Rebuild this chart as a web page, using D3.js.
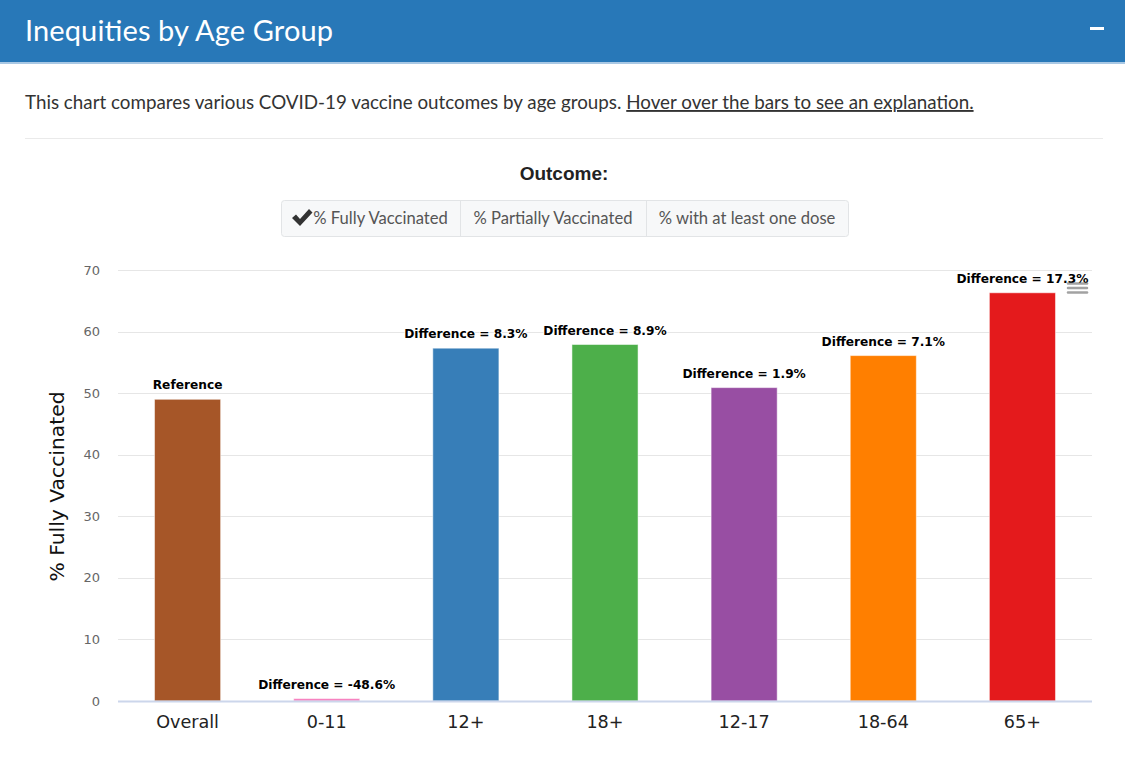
<!DOCTYPE html>
<html>
<head>
<meta charset="utf-8">
<script src="https://cdn.jsdelivr.net/npm/d3@7"></script>
<style>
  body { margin: 0; background: #fff; }
  svg { display: block; }
</style>
</head>
<body>
<svg id="chart"></svg>
<script>
// Data
const categories = ['Overall', '0-11', '12+', '18+', '12-17', '18-64', '65+'];
const values = [49.0, 0.4, 57.3, 57.9, 50.9, 56.1, 66.3];
const labels = ['Reference', 'Difference = -48.6%', 'Difference = 8.3%', 'Difference = 8.9%',
  'Difference = 1.9%', 'Difference = 7.1%', 'Difference = 17.3%'];
const colors = ['#a65628', '#f781bf', '#377eb8', '#4daf4a', '#984ea3', '#ff7f00', '#e41a1c'];
const yTicks = [0, 10, 20, 30, 40, 50, 60, 70];
const outcomes = ['% Fully Vaccinated', '% Partially Vaccinated', '% with at least one dose'];

const W = 1125, H = 779;
const svg = d3.select('#chart').attr('width', W).attr('height', H);

// Header
svg.append('rect').attr('x', 0).attr('y', 0).attr('width', W).attr('height', 62).attr('fill', '#2878b8');
svg.append('rect').attr('x', 0).attr('y', 62).attr('width', W).attr('height', 2).attr('fill', '#a9c8e4');
svg.append('text')
  .attr('x', 25).attr('y', 41)
  .attr('fill', '#fff')
  .attr('textLength', 308)
  .style('font', '29px Lato, "Open Sans", sans-serif')
  .text('Inequities by Age Group');
svg.append('rect').attr('x', 1090).attr('y', 27).attr('width', 14).attr('height', 3).attr('fill', '#fff');

// Description
const desc = svg.append('text')
  .attr('x', 25).attr('y', 109)
  .attr('fill', '#333')
  .style('font', '18.8px Lato, "Open Sans", sans-serif');
desc.append('tspan').text('This chart compares various COVID-19 vaccine outcomes by age groups. ');
desc.append('tspan').attr('text-decoration', 'underline').text('Hover over the bars to see an explanation.');

svg.append('line').attr('x1', 25).attr('x2', 1103).attr('y1', 138.5).attr('y2', 138.5)
  .attr('stroke', '#eaeaea');

// Outcome selector
svg.append('text')
  .attr('x', 564).attr('y', 180)
  .attr('text-anchor', 'middle')
  .attr('fill', '#222')
  .style('font', 'bold 19px "Liberation Sans", Arial, sans-serif')
  .text('Outcome:');

const btnEdges = [281, 460, 646, 848];
const btns = svg.append('g');
btns.append('rect')
  .attr('x', btnEdges[0] + 0.5).attr('y', 200.5)
  .attr('width', btnEdges[3] - btnEdges[0]).attr('height', 36)
  .attr('rx', 3)
  .attr('fill', '#f7f8f9').attr('stroke', '#e2e4e6');
outcomes.forEach((o, i) => {
  if (i > 0) {
    btns.append('line')
      .attr('x1', btnEdges[i] + 0.5).attr('x2', btnEdges[i] + 0.5)
      .attr('y1', 201).attr('y2', 236)
      .attr('stroke', '#e2e4e6');
  }
  const cx = (btnEdges[i] + btnEdges[i + 1]) / 2;
  btns.append('text')
    .attr('x', cx + (i === 0 ? 10 : 0)).attr('y', 224)
    .attr('text-anchor', 'middle')
    .attr('fill', '#555')
    .style('font', '16.6px Lato, "Open Sans", sans-serif')
    .text(o);
});
// checkmark
btns.append('path')
  .attr('d', 'M292,218 L296,214.5 L300,219 L309,209 L312.5,212.5 L300,226 Z')
  .attr('fill', '#333');

// Chart
const margin = { left: 118, right: 1092, top: 270, bottom: 701 };
const x = d3.scaleBand().domain(categories).range([margin.left, margin.right]).paddingInner(0.525).paddingOuter(0.2625);
const y = d3.scaleLinear().domain([0, 70]).range([margin.bottom, margin.top]);

// Grid
svg.append('g')
  .selectAll('line')
  .data(yTicks.filter(d => d > 0))
  .join('line')
  .attr('x1', margin.left).attr('x2', margin.right)
  .attr('y1', d => Math.round(y(d)) + 0.5).attr('y2', d => Math.round(y(d)) + 0.5)
  .attr('stroke', '#e6e6e6');

// Y ticks
svg.append('g')
  .selectAll('text')
  .data(yTicks)
  .join('text')
  .attr('x', 100).attr('y', d => y(d) + 4.5)
  .attr('text-anchor', 'end')
  .attr('fill', '#666')
  .style('font', '13px "DejaVu Sans", Verdana, sans-serif')
  .text(d => d);

// Y title
svg.append('text')
  .attr('transform', `translate(64, ${(margin.top + margin.bottom) / 2 + 1}) rotate(-90)`)
  .attr('text-anchor', 'middle')
  .attr('fill', '#111')
  .style('font', '20.3px "DejaVu Sans", Verdana, sans-serif')
  .text('% Fully Vaccinated');

// Bars
svg.append('g')
  .selectAll('rect')
  .data(values)
  .join('rect')
  .attr('x', (d, i) => x(categories[i]))
  .attr('y', d => y(d))
  .attr('width', x.bandwidth())
  .attr('height', d => y(0) - y(d))
  .attr('fill', (d, i) => colors[i])
  .attr('stroke', '#fff')
  .attr('stroke-opacity', 0.5);

// Axis line
svg.append('line')
  .attr('x1', margin.left).attr('x2', margin.right)
  .attr('y1', margin.bottom + 0.5).attr('y2', margin.bottom + 0.5)
  .attr('stroke', '#ccd6eb').attr('stroke-width', 2);

// Data labels
svg.append('g')
  .selectAll('text')
  .data(values)
  .join('text')
  .attr('x', (d, i) => x(categories[i]) + x.bandwidth() / 2)
  .attr('y', d => y(d) - 10)
  .attr('text-anchor', 'middle')
  .attr('fill', '#000')
  .attr('stroke', '#fff').attr('stroke-width', 2).attr('paint-order', 'stroke')
  .style('font', 'bold 12.2px "DejaVu Sans", Verdana, sans-serif')
  .text((d, i) => labels[i]);

// X labels
svg.append('g')
  .selectAll('text')
  .data(categories)
  .join('text')
  .attr('x', d => x(d) + x.bandwidth() / 2)
  .attr('y', 728)
  .attr('text-anchor', 'middle')
  .attr('fill', '#222')
  .style('font', '17.6px "DejaVu Sans", Verdana, sans-serif')
  .text(d => d);

// Export menu icon
const menu = svg.append('g').attr('opacity', 0.6);
[283.5, 288, 292.5].forEach(yy => {
  menu.append('line').attr('x1', 1068).attr('x2', 1087).attr('y1', yy).attr('y2', yy)
    .attr('stroke', '#666').attr('stroke-width', 2.5).attr('stroke-linecap', 'round');
});
</script>
</body>
</html>
